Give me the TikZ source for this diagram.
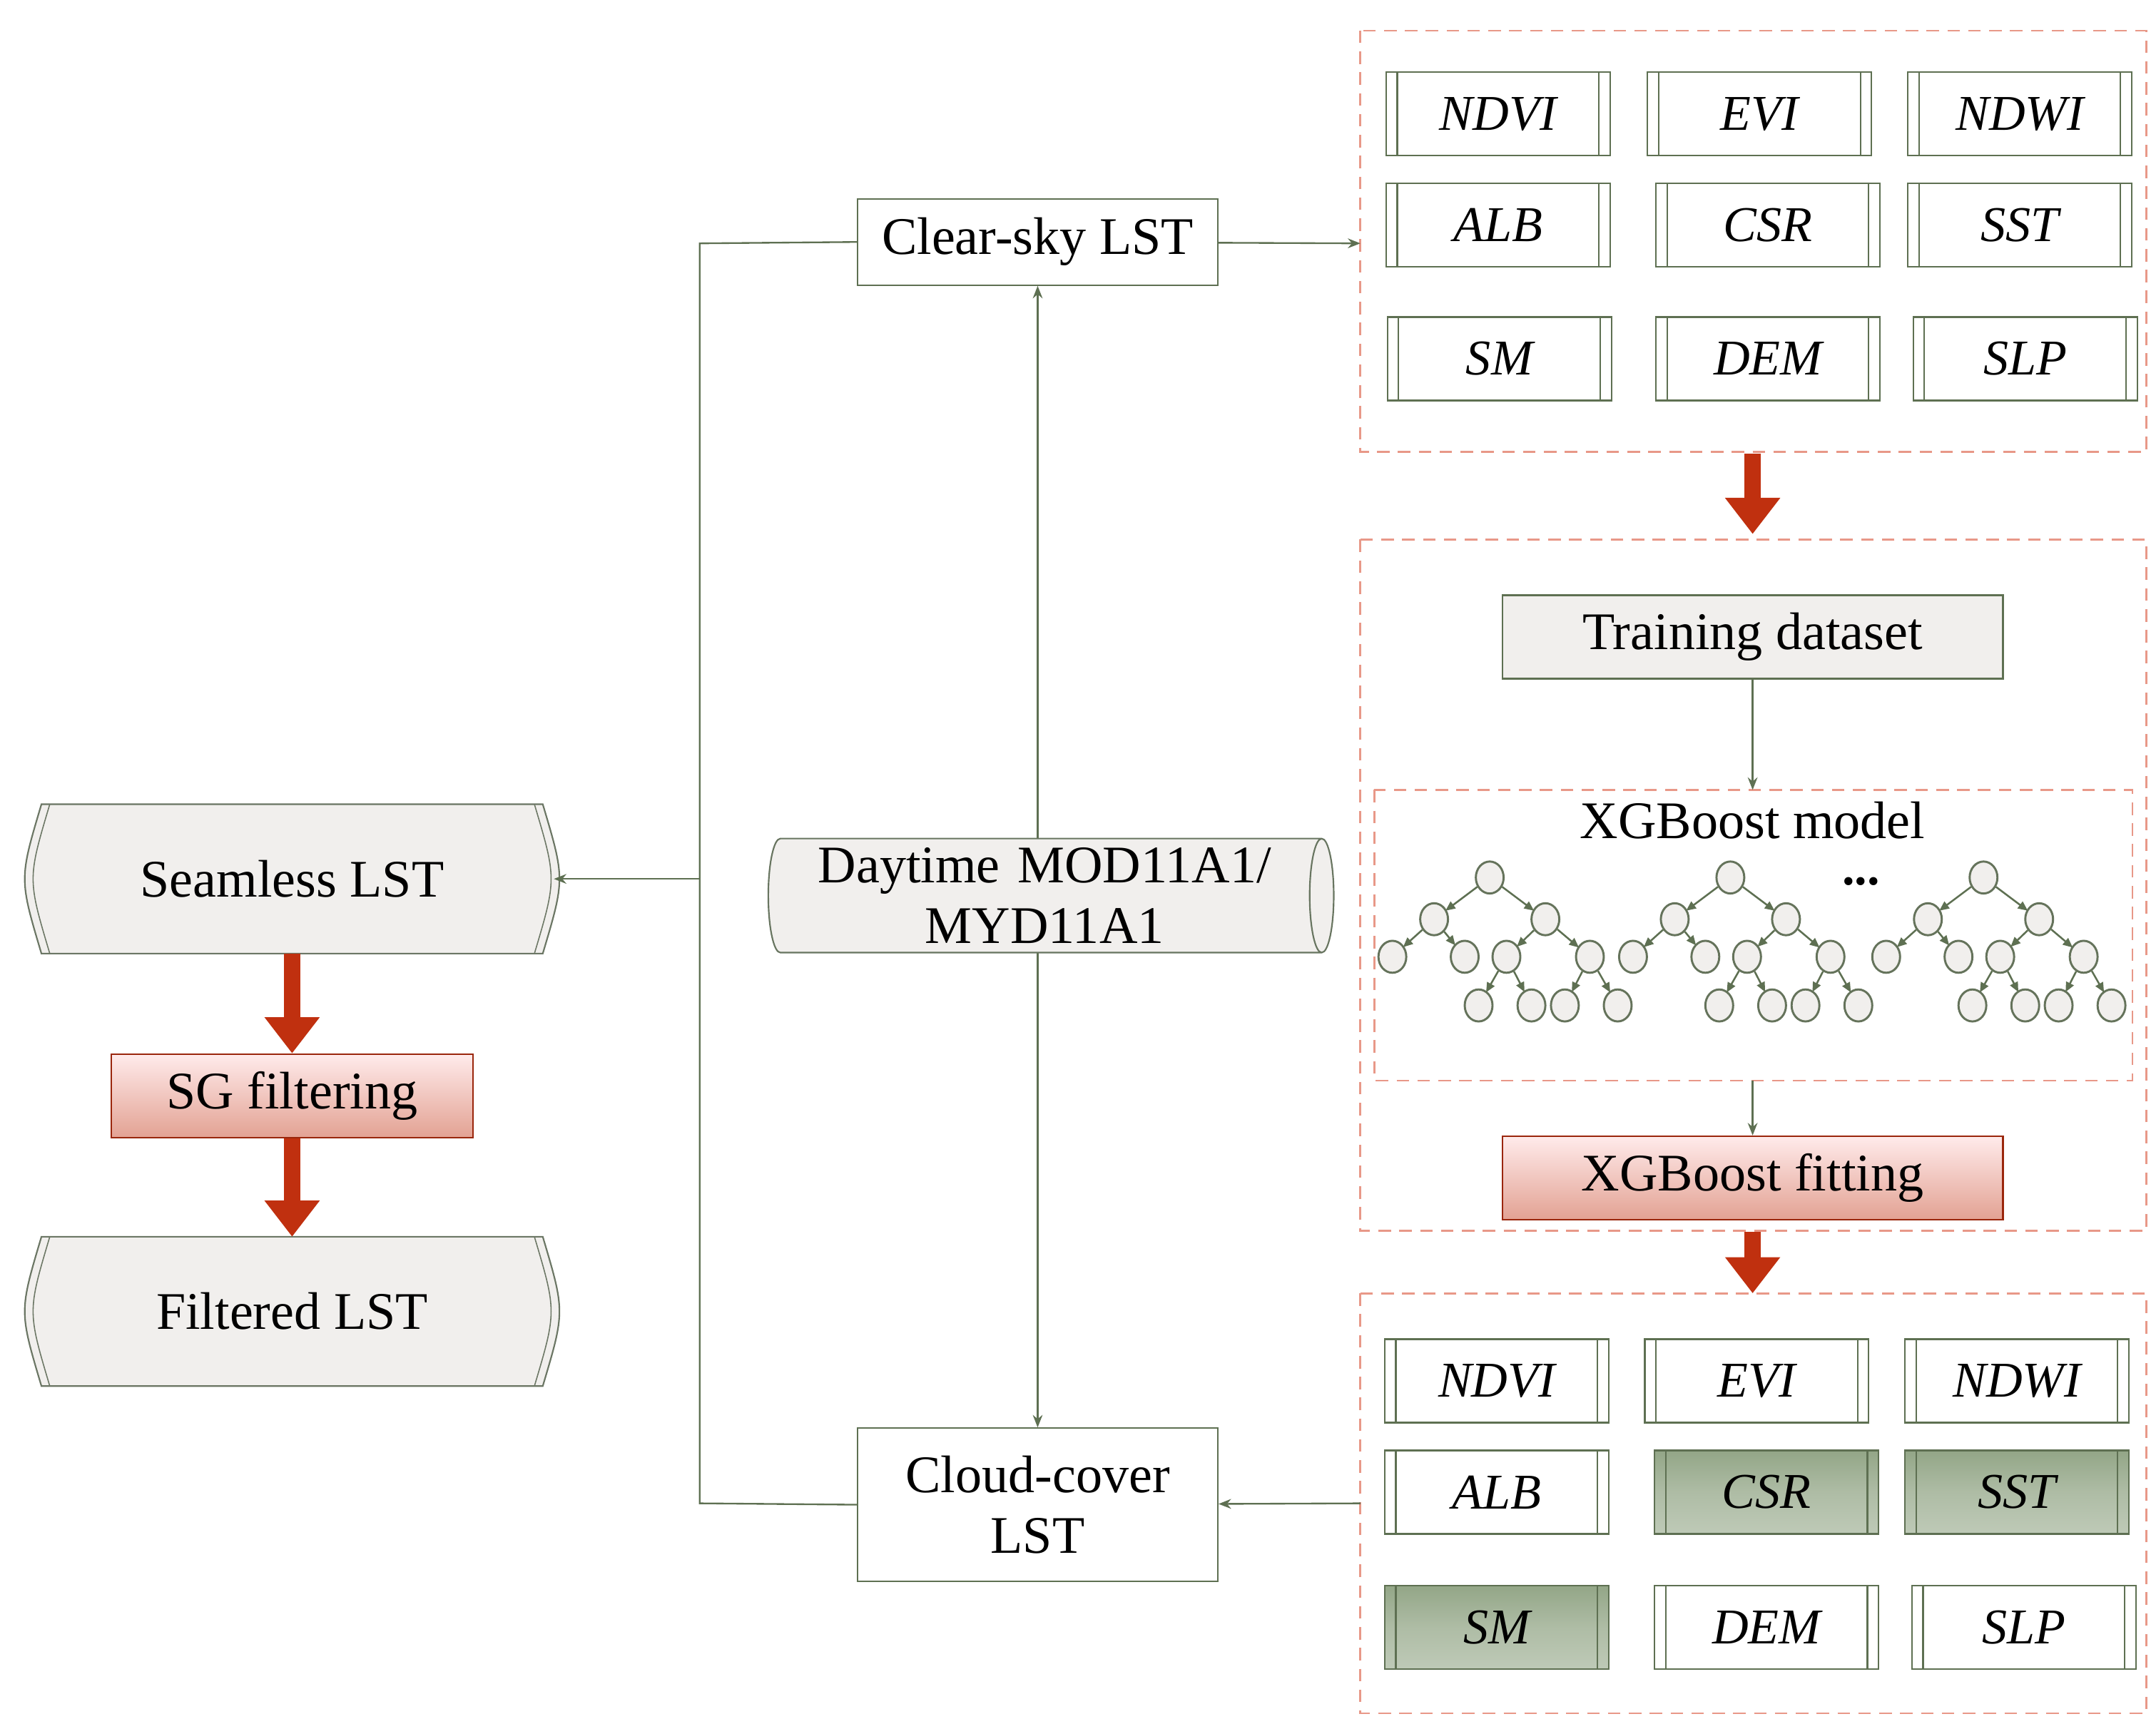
\documentclass[tikz,border=0pt]{standalone}
\usepackage{fontspec}
\setmainfont{Liberation Serif}
\usetikzlibrary{shapes.geometric,arrows.meta,calc}
\definecolor{gl}{HTML}{5E7052}
\definecolor{dr}{HTML}{E89888}
\definecolor{rr}{HTML}{C0300F}
\definecolor{gf}{HTML}{F1EFED}
\definecolor{gg}{HTML}{93A687}
\tikzset{
 ln/.style={draw=gl,line width=1.2pt},
 arr/.style={ln,-{Stealth[length=9pt,width=7pt]}},
 big/.style={draw=rr,line width=12pt,-{Triangle[length=26pt,width=38pt]}},
 dbox/.style={draw=dr,dashed,dash pattern=on 9pt off 6pt,line width=1.4pt},
 txt/.style={font=\fontsize{38}{44}\selectfont},
 var/.style={draw=gl,line width=1.1pt,minimum width=161pt,minimum height=60pt,inner sep=0pt,font=\fontsize{36}{40}\selectfont\itshape,
   path picture={\draw[gl,line width=1.1pt] ([xshift=8pt]path picture bounding box.north west) -- ([xshift=8pt]path picture bounding box.south west);
   \draw[gl,line width=1.1pt] ([xshift=-8pt]path picture bounding box.north east) -- ([xshift=-8pt]path picture bounding box.south east);}},
 gv/.style={var,top color=gg,bottom color=gg!60!white,middle color=gg!75!white},
 box/.style={draw=gl,line width=1.1pt,inner sep=0pt,txt,fill=white},
 redbox/.style={draw=rr!80!black,line width=1.1pt,inner sep=0pt,txt,top color=red!8!white,bottom color=rr!45!white},
 tn/.style={ellipse,draw=gl!80!gray,line width=1.5pt,fill=gf,minimum width=20pt,minimum height=23pt,inner sep=0pt},
 te/.style={draw=gl,line width=1.3pt,-{Triangle[length=7pt,width=6pt]},shorten >=-1pt},
}
\begin{document}
\begin{tikzpicture}[x=1pt,y=-1pt]
\useasboundingbox[fill=white] (0,0) rectangle (1550,1236);
% dashed boxes
\draw[dbox] (978,22) rectangle (1543,325);
\draw[dbox] (978,388) rectangle (1543,885);
\draw[dbox] (988,568) rectangle (1533,777);
\draw[dbox] (978,930) rectangle (1543,1232);
% top variables
\foreach \n/\t/\x/\y in {a1/NDVI/1077/82,a2/EVI/1265/82,a3/NDWI/1452/82,a4/ALB/1077/162,a5/CSR/1271/162,a6/SST/1452/162,a7/SM/1078/258,a8/DEM/1271/258,a9/SLP/1456/258}
  \node[var] (\n) at (\x,\y) {\t};
% bottom variables
\foreach \n/\t/\x/\y/\s in {b1/NDVI/1076/993/var,b2/EVI/1263/993/var,b3/NDWI/1450/993/var,b4/ALB/1076/1073/var,b5/CSR/1270/1073/gv,b6/SST/1450/1073/gv,b7/SM/1076/1170/gv,b8/DEM/1270/1170/var,b9/SLP/1455/1170/var}
  \node[\s] (\n) at (\x,\y) {\t};
% middle
\node[box,fill=gf,minimum width=360pt,minimum height=60pt] (td) at (1260,458) {Training dataset};
\node[txt,inner sep=0pt] (xm) at (1260,590) {XGBoost model};
\node[redbox,minimum width=360pt,minimum height=60pt] (xf) at (1260,847) {XGBoost fitting};
\coordinate (mt) at (1260,568);
\coordinate (mb) at (1260,777);
\draw[arr] (td) -- (mt);
\draw[arr] (mb) -- (xf);
% trees
\foreach \o/\k in {0/1,173/2,355/3}{
 \begin{scope}[xshift=\o]
 \node[tn] (r\k) at (1071,631) {};
 \node[tn] (l\k) at (1031,661) {};
 \node[tn] (m\k) at (1111,661) {};
 \node[tn] (p\k) at (1001,688) {};
 \node[tn] (q\k) at (1053,688) {};
 \node[tn] (s\k) at (1083,688) {};
 \node[tn] (u\k) at (1143,688) {};
 \node[tn] (v\k) at (1063,723) {};
 \node[tn] (w\k) at (1101,723) {};
 \node[tn] (y\k) at (1125,723) {};
 \node[tn] (z\k) at (1163,723) {};
 \draw[te] (r\k)--(l\k); \draw[te] (r\k)--(m\k);
 \draw[te] (l\k)--(p\k); \draw[te] (l\k)--(q\k);
 \draw[te] (m\k)--(s\k); \draw[te] (m\k)--(u\k);
 \draw[te] (s\k)--(v\k); \draw[te] (s\k)--(w\k);
 \draw[te] (u\k)--(y\k); \draw[te] (u\k)--(z\k);
 \end{scope}}
\node[font=\fontsize{36}{40}\selectfont,inner sep=0pt] (dots) at (1338,634) {\textbf{...}};
% big red arrows
\coordinate (ra1) at (1260,326); \coordinate (ra2) at (1260,384);
\coordinate (ra3) at (1260,886); \coordinate (ra4) at (1260,930);
\draw[big] (ra1) -- (ra2);
\draw[big] (ra3) -- (ra4);
% center column
\node[box,minimum width=259pt,minimum height=62pt] (cs) at (746,174) {Clear-sky LST};
\node[box,minimum width=259pt,minimum height=110pt,align=center] (cc) at (746,1082) {Cloud-cover\\LST};
\coordinate (dtop) at (978,175);
\coordinate (dbot) at (978,1081);
\draw[arr] (cs) -- (dtop);
\draw[arr] (dbot) -- (cc);
\draw[arr,{Stealth[length=9pt,width=7pt]}-{Stealth[length=9pt,width=7pt]}] (cs) -- (cc);
\node[cylinder,draw=gl!70!gray,line width=1.1pt,fill=gf,minimum width=82pt,minimum height=388pt,aspect=0.25,shape border rotate=0,inner sep=0pt,txt,align=center,text width=380pt] (dt) at (751,644) {Daytime MOD11A1/\\MYD11A1};
% left
\node[txt,minimum width=376pt,minimum height=107pt] (sl) at (210,632) {Seamless LST};
\node[txt,minimum width=376pt,minimum height=107pt] (fl) at (210,943) {Filtered LST};
\foreach \n in {sl,fl}{
 \draw[gl!60!gray,line width=1.1pt,fill=gf] ([xshift=8]\n.north west) -- ([xshift=-8]\n.north east) .. controls ([xshift=8]\n.east) .. ([xshift=-8]\n.south east) -- ([xshift=8]\n.south west) .. controls ([xshift=-8]\n.west) .. cycle;
 \draw[gl!60!gray,line width=0.8pt] ([xshift=-14]\n.north east) .. controls ([xshift=2]\n.east) .. ([xshift=-14]\n.south east);
 \draw[gl!60!gray,line width=0.8pt] ([xshift=14]\n.north west) .. controls ([xshift=-2]\n.west) .. ([xshift=14]\n.south west);
}
\node[txt] at (sl) {Seamless LST};
\node[txt] at (fl) {Filtered LST};
\node[redbox,minimum width=260pt,minimum height=60pt] (sg) at (210,788) {SG filtering};
\draw[big] (sl) -- (sg);
\draw[big] (sg) -- (fl);
\coordinate (j1) at (503,175); \coordinate (j2) at (503,1081); \coordinate (jm) at (503,632);
\draw[ln] (cs.west) -- (j1) -- (j2) -- (cc.west);
\draw[arr] (jm) -- (sl.east);
\end{tikzpicture}
\end{document}
